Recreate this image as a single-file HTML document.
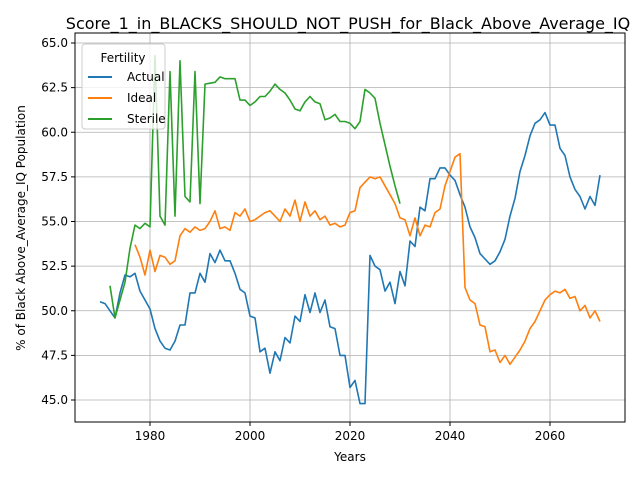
<!DOCTYPE html>
<html><head><meta charset="utf-8"><style>
body{margin:0;background:#fff;font-family:"Liberation Sans","DejaVu Sans",sans-serif}
svg text{font-family:"DejaVu Sans","Liberation Sans",sans-serif}
</style></head><body>
<svg id="chart" width="640" height="480" xmlns="http://www.w3.org/2000/svg">
<rect width="640" height="480" fill="#fff"/>
<text x="348" y="29" font-size="16" text-anchor="middle">Score_1_in_BLACKS_SHOULD_NOT_PUSH_for_Black_Above_Average_IQ</text>
<g id="grid"></g><g id="series"></g><g id="axes"></g>
<text x="350" y="461" font-size="12" text-anchor="middle">Years</text>
<text transform="translate(25,228) rotate(-90)" font-size="12" text-anchor="middle">% of Black Above_Average_IQ Population</text>
<g>
<rect x="82" y="44" width="83" height="85" rx="3" fill="#fff" fill-opacity="0.8" stroke="#ccc"/>
<text x="123" y="62" font-size="12" text-anchor="middle">Fertility</text>
<line x1="88" y1="77" x2="112" y2="77" stroke="#1f77b4" stroke-width="2"/><text x="127" y="81" font-size="12">Actual</text>
<line x1="88" y1="98" x2="112" y2="98" stroke="#ff7f0e" stroke-width="2"/><text x="127" y="102" font-size="12">Ideal</text>
<line x1="88" y1="119" x2="112" y2="119" stroke="#2ca02c" stroke-width="2"/><text x="127" y="123" font-size="12">Sterile</text>
</g>
</svg>
<script>
const actualStart=1970;
const actual=[50.5,50.4,50.0,49.6,51.0,52.0,51.9,52.1,51.1,50.6,50.1,49.0,48.3,47.9,47.8,48.3,49.2,49.2,51.0,51.0,52.1,51.6,53.2,52.7,53.4,52.8,52.8,52.1,51.2,51.0,49.7,49.6,47.7,47.9,46.5,47.7,47.2,48.5,48.2,49.7,49.4,50.9,49.9,51.0,49.9,50.6,49.1,49.0,47.5,47.5,45.7,46.1,44.8,44.8,53.1,52.5,52.3,51.1,51.6,50.4,52.2,51.4,53.9,53.6,55.8,55.6,57.4,57.4,58.0,58.0,57.6,57.3,56.5,55.8,54.7,54.1,53.2,52.9,52.6,52.8,53.3,54.0,55.3,56.3,57.8,58.7,59.8,60.5,60.7,61.1,60.4,60.4,59.1,58.7,57.5,56.8,56.4,55.7,56.4,55.9,57.6];
const idealStart=1977;
const ideal=[53.7,53.0,52.0,53.4,52.2,53.1,53.0,52.6,52.8,54.2,54.6,54.4,54.7,54.5,54.6,55.0,55.6,54.6,54.7,54.5,55.5,55.3,55.7,55.0,55.1,55.3,55.5,55.6,55.3,55.0,55.7,55.3,56.2,55.0,56.1,55.3,55.6,55.1,55.3,54.8,54.9,54.7,54.8,55.5,55.6,56.9,57.2,57.5,57.4,57.5,57.0,56.5,56.0,55.2,55.1,54.2,55.2,54.2,54.8,54.7,55.5,55.7,57.0,57.8,58.6,58.8,51.3,50.6,50.4,49.2,49.1,47.7,47.8,47.1,47.5,47.0,47.4,47.8,48.3,49.0,49.4,50.0,50.6,50.9,51.1,51.0,51.2,50.7,50.8,50.0,50.3,49.6,50.0,49.4];
const sterileStart=1972;
const sterile=[51.4,49.6,50.6,51.6,53.5,54.8,54.6,54.9,54.7,64.3,55.3,54.8,63.4,55.3,64.0,56.4,56.1,63.4,56.0,62.7,62.75,62.8,63.1,63.0,63.0,63.0,61.8,61.8,61.5,61.7,62.0,62.0,62.3,62.7,62.4,62.2,61.8,61.3,61.2,61.7,62.0,61.7,61.6,60.7,60.8,61.0,60.6,60.6,60.5,60.2,60.6,62.4,62.2,61.9,60.5,59.3,58.1,57.0,56.0];
const xTicks=[1980,2000,2020,2040,2060];
const yTicks=[45.0,47.5,50.0,52.5,55.0,57.5,60.0,62.5,65.0];
const L=75,R=625,T=33,B=422;
const X=v=>100+(v-1970)*5;
const Y=v=>400-(v-45)*17.85;
const NS="http://www.w3.org/2000/svg";
function mk(t,a,p){const e=document.createElementNS(NS,t);for(const k in a)e.setAttribute(k,a[k]);p.appendChild(e);return e;}
const grid=document.getElementById('grid'),axes=document.getElementById('axes'),ser=document.getElementById('series');
xTicks.forEach(t=>{
 const g=mk('line',{x1:X(t),x2:X(t),y1:T,y2:B,stroke:'#b0b0b0','stroke-width':0.8},grid);
 
 
 mk('line',{x1:X(t),x2:X(t),y1:B,y2:B+4,stroke:'#000'},axes);
 const tx=mk('text',{x:X(t),y:B+18,'font-size':12,'text-anchor':'middle'},axes);tx.textContent=t;
 
 
});
yTicks.forEach(t=>{
 const g=mk('line',{x1:L,x2:R,y1:Y(t),y2:Y(t),stroke:'#b0b0b0','stroke-width':0.8},grid);
 
 
 mk('line',{x1:L-4,x2:L,y1:Y(t),y2:Y(t),stroke:'#000'},axes);
 const tx=mk('text',{x:L-7,y:Y(t)+4,'font-size':12,'text-anchor':'end'},axes);tx.textContent=t.toFixed(1);
 
 
});
const fr=mk('rect',{x:L,y:T,width:R-L,height:B-T,fill:'none',stroke:'#000','stroke-width':1},axes);


function line(arr,start,color,name){
 const d=arr.map((v,i)=>(i?'L':'M')+X(start+i).toFixed(1)+','+Y(v).toFixed(1)).join('');
 const p=mk('path',{d:d,fill:'none',stroke:color,'stroke-width':1.6,'stroke-linejoin':'round'},ser);
 
 
}
line(actual,actualStart,'#1f77b4','actual-line');
line(ideal,idealStart,'#ff7f0e','ideal-line');
line(sterile,sterileStart,'#2ca02c','sterile-line');
</script>
</body></html>
